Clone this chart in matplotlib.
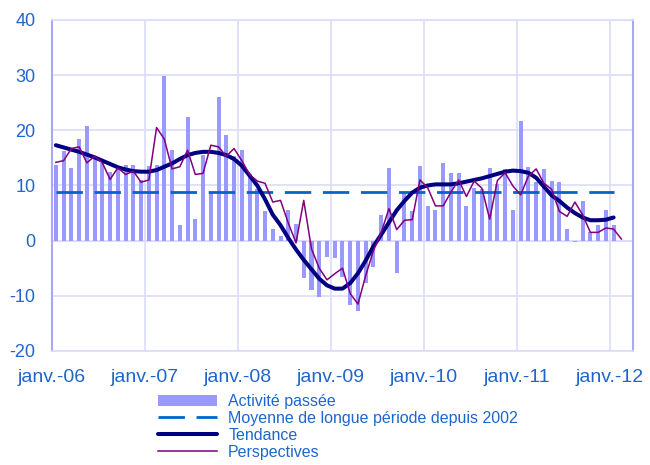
import matplotlib
matplotlib.use("Agg")
import matplotlib.pyplot as plt
import numpy as np

plt.rcParams['font.family'] = ['Liberation Sans', 'DejaVu Sans']
plt.rcParams['axes.unicode_minus'] = False

# ---- data (monthly, janv.-06 .. févr.-12) ----
activite = [13.8, 16.2, 13.1, 18.5, 20.7, 15.3, 14.0, 12.5, 13.0, 13.8, 13.8, 11.0,
            13.5, 13.8, 29.9, 16.5, 2.8, 22.5, 4.0, 15.6, 8.7, 26.1, 19.1, 15.4,
            16.5, 12.0, 9.3, 5.3, 2.2, 0.9, 5.6, 3.1, -6.8, -9.0, -10.2, -3.0,
            -3.2, -6.6, -11.6, -12.8, -7.7, -4.7, 4.7, 13.1, -5.8, 8.7, 5.3, 13.5,
            6.2, 5.6, 14.1, 12.2, 12.2, 6.2, 9.6, 9.3, 13.1, 10.3, 12.9, 5.6,
            21.6, 13.4, 10.6, 12.9, 10.9, 10.6, 2.2, -0.3, 7.2, 1.5, 2.8, 5.6,
            2.8]

tendance = [17.3, 16.9, 16.5, 16.1, 15.6, 15.1, 14.5, 13.9, 13.3, 12.9, 12.6, 12.5,
            12.5, 12.8, 13.4, 14.0, 14.8, 15.5, 15.9, 16.1, 16.1, 15.9, 15.5, 14.8,
            13.6, 11.8, 10.0, 7.5, 4.7, 2.8, 0.5, -1.6, -3.5, -5.2, -6.9, -8.1,
            -8.7, -8.7, -7.7, -5.9, -3.6, -1.0, 1.1, 3.3, 5.5, 7.2, 8.7, 9.6,
            10.0, 10.2, 10.2, 10.2, 10.4, 10.7, 11.0, 11.3, 11.7, 12.1, 12.5, 12.7,
            12.6, 12.3, 11.4, 9.8, 8.2, 7.2, 6.0, 5.0, 4.2, 3.7, 3.7, 3.8,
            4.2]

perspectives = [14.2, 14.5, 16.7, 17.0, 14.1, 15.3, 14.1, 11.1, 13.2, 12.0, 12.6, 10.6,
                11.0, 20.5, 18.4, 13.0, 13.4, 16.4, 12.0, 12.2, 17.3, 17.0, 15.3, 16.7,
                14.5, 12.0, 10.8, 10.4, 7.0, 7.3, 3.2, -0.4, 7.3, -1.5, -5.0, -7.1,
                -6.0, -5.0, -9.6, -11.5, -6.3, -1.8, 1.5, 5.8, 2.0, 3.7, 3.8, 11.0,
                9.6, 6.3, 6.3, 8.8, 11.0, 8.0, 10.8, 9.5, 3.9, 10.9, 12.3, 9.9,
                8.3, 11.7, 13.0, 10.4, 9.3, 5.3, 4.4, 7.0, 4.7, 1.5, 1.5, 2.3,
                2.1, 0.3]

moyenne = 8.85

tick_labels = ['janv.-06', 'janv.-07', 'janv.-08', 'janv.-09', 'janv.-10', 'janv.-11', 'janv.-12']
y_ticks = [-20, -10, 0, 10, 20, 30, 40]

# ---- styles ----
c_bar = '#9999FF'
c_moy = '#0066CC'
c_tend = '#000080'
c_persp = '#800080'
c_text = '#1F66CC'
c_grid = '#DCDCFA'
c_spine = '#A8A8F4'

fig = plt.figure(figsize=(6.5, 4.65), dpi=100)
ax = fig.add_axes([0.08, 0.2452, 0.8938, 0.7118])

xb = np.arange(len(activite)) + 0.5
xt = np.arange(len(tendance)) + 0.5
xp = np.arange(len(perspectives)) + 0.5

h_bar = ax.bar(xb, activite, width=0.52, color=c_bar, zorder=2, label='Activité passée')
h_moy, = ax.plot(xb, np.full(len(xb), moyenne), color=c_moy, lw=2.0, dashes=(9.5, 4.2),
                 zorder=3, label='Moyenne de longue période depuis 2002')
h_tend, = ax.plot(xt, tendance, color=c_tend, lw=2.9, solid_joinstyle='round',
                  solid_capstyle='round', zorder=4, label='Tendance')
h_persp, = ax.plot(xp, perspectives, color=c_persp, lw=1.1, zorder=5, label='Perspectives')

ax.set_xlim(0, 75)
ax.set_ylim(-20, 40)
ax.set_yticks(y_ticks)
ax.set_xticks(np.arange(0, 73, 12))
ax.set_xticklabels(tick_labels)
ax.grid(True, color=c_grid, lw=1.2, zorder=0)
ax.set_axisbelow(True)
ax.axhline(0, color=c_grid, lw=1.2, zorder=1)
ax.tick_params(axis='both', length=0, colors=c_text)
ax.tick_params(axis='x', pad=13, labelsize=14)
ax.tick_params(axis='y', pad=12, labelsize=13)
for s in ['left', 'right']:
    ax.spines[s].set_color(c_spine)
    ax.spines[s].set_linewidth(1.5)
for s in ['top', 'bottom']:
    ax.spines[s].set_color(c_grid)
    ax.spines[s].set_linewidth(1.2)

handles = [h_bar, h_moy, h_tend, h_persp]
labels = [h.get_label() for h in handles]
leg = fig.legend(handles, labels, loc='upper left', bbox_to_anchor=(0.243, 0.153),
                 frameon=False, fontsize=11.5, handlelength=3.7, handletextpad=0.7,
                 labelspacing=0.12, borderaxespad=0, borderpad=0)
for t in leg.get_texts():
    t.set_color(c_text)

fig.savefig('out.png', dpi=100)
